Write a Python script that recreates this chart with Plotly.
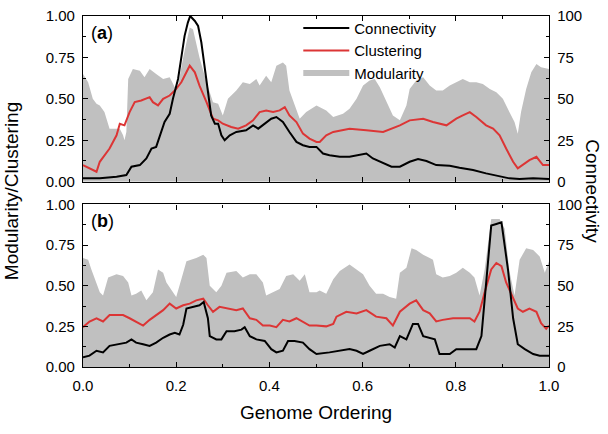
import plotly.graph_objects as go

# ---------------- Panel (a) ----------------
a_mod_x = [0, 0.011, 0.021, 0.029, 0.036, 0.046, 0.057, 0.079, 0.086, 0.089, 0.093, 0.097, 0.107, 0.122, 0.132,
           0.143, 0.157, 0.172, 0.186, 0.197, 0.204, 0.215, 0.229, 0.236, 0.250, 0.265, 0.279, 0.290, 0.300,
           0.311, 0.329, 0.343, 0.358, 0.372, 0.379, 0.393, 0.404, 0.415, 0.429, 0.436, 0.443, 0.454, 0.465,
           0.479, 0.501, 0.522, 0.537, 0.558, 0.572, 0.587, 0.601, 0.615, 0.626, 0.637, 0.651, 0.665, 0.680,
           0.694, 0.701, 0.715, 0.730, 0.744, 0.758, 0.772, 0.787, 0.801, 0.815, 0.830, 0.844, 0.858, 0.873,
           0.887, 0.901, 0.915, 0.926, 0.933, 0.940, 0.951, 0.962, 0.973, 0.983, 1.0]
a_mod_y = [0.65, 0.60, 0.50, 0.47, 0.46, 0.42, 0.32, 0.32, 0.28, 0.25, 0.30, 0.62, 0.68, 0.67, 0.63,
           0.68, 0.65, 0.62, 0.63, 0.57, 0.58, 0.75, 0.93, 0.92, 0.75, 0.60, 0.48, 0.47, 0.40,
           0.50, 0.55, 0.60, 0.59, 0.62, 0.58, 0.64, 0.60, 0.70, 0.72, 0.70, 0.55, 0.47, 0.38,
           0.42, 0.46, 0.43, 0.39, 0.41, 0.44, 0.50, 0.58, 0.61, 0.62, 0.57, 0.48, 0.40, 0.37,
           0.46, 0.56, 0.61, 0.63, 0.58, 0.55, 0.55, 0.58, 0.60, 0.62, 0.60, 0.60, 0.59, 0.56,
           0.54, 0.50, 0.42, 0.36, 0.29, 0.42, 0.56, 0.66, 0.71, 0.69, 0.68]

a_clu_x = [0, 0.014, 0.029, 0.036, 0.046, 0.057, 0.072, 0.079, 0.089, 0.100, 0.111, 0.125, 0.143, 0.150,
           0.161, 0.172, 0.186, 0.197, 0.211, 0.222, 0.229, 0.240, 0.250, 0.265, 0.279, 0.290, 0.300, 0.318,
           0.333, 0.350, 0.365, 0.379, 0.393, 0.408, 0.422, 0.433, 0.443, 0.458, 0.472, 0.486, 0.501, 0.508,
           0.522, 0.537, 0.572, 0.608, 0.644, 0.680, 0.701, 0.730, 0.751, 0.780, 0.801, 0.815, 0.830, 0.844,
           0.865, 0.880, 0.894, 0.908, 0.923, 0.933, 0.944, 0.958, 0.973, 0.987, 1.0]
a_clu_y = [0.10, 0.08, 0.06, 0.12, 0.16, 0.20, 0.28, 0.35, 0.34, 0.42, 0.48, 0.49, 0.51, 0.48,
           0.46, 0.50, 0.52, 0.55, 0.60, 0.66, 0.70, 0.66, 0.58, 0.48, 0.38, 0.37, 0.35, 0.33,
           0.32, 0.34, 0.37, 0.42, 0.43, 0.42, 0.43, 0.45, 0.40, 0.36, 0.29, 0.26, 0.24, 0.24,
           0.28, 0.30, 0.32, 0.31, 0.30, 0.34, 0.37, 0.38, 0.36, 0.34, 0.38, 0.40, 0.42, 0.39,
           0.34, 0.32, 0.28, 0.20, 0.12, 0.08, 0.10, 0.13, 0.15, 0.10, 0.10]

a_con_x = [0, 0.036, 0.072, 0.093, 0.104, 0.122, 0.136, 0.147, 0.157, 0.165, 0.175, 0.186, 0.193, 0.204,
           0.211, 0.218, 0.225, 0.230, 0.240, 0.247, 0.254, 0.261, 0.268, 0.275, 0.283, 0.290, 0.297, 0.304,
           0.315, 0.329, 0.350, 0.365, 0.376, 0.390, 0.404, 0.415, 0.429, 0.443, 0.458, 0.472, 0.486, 0.501,
           0.515, 0.529, 0.551, 0.572, 0.594, 0.608, 0.622, 0.644, 0.662, 0.680, 0.701, 0.719, 0.737, 0.758,
           0.787, 0.808, 0.837, 0.865, 0.894, 0.915, 0.937, 0.966, 1.0]
a_con_y = [2, 2, 3, 4, 9, 10, 14, 20, 21, 28, 36, 41, 50, 62,
           76, 88, 96, 100, 97, 94, 84, 70, 56, 40, 35, 35, 28, 25,
           28, 30, 31, 34, 32, 35, 38, 39, 36, 30, 24, 22, 21, 21,
           17, 16, 15, 15, 16, 17, 14, 11, 9, 9, 12, 13.6, 12.5, 10,
           9.6, 8.4, 7, 5, 3, 2, 1.6, 2, 1.6]

# ---------------- Panel (b) ----------------
b_mod_x = [0, 0.011, 0.018, 0.029, 0.036, 0.043, 0.054, 0.072, 0.086, 0.097, 0.104, 0.114, 0.125, 0.136,
           0.150, 0.161, 0.172, 0.179, 0.200, 0.211, 0.222, 0.243, 0.258, 0.265, 0.272, 0.286, 0.297, 0.308,
           0.329, 0.343, 0.358, 0.372, 0.386, 0.393, 0.408, 0.422, 0.436, 0.451, 0.465, 0.476, 0.486, 0.501,
           0.508, 0.522, 0.537, 0.551, 0.572, 0.587, 0.601, 0.615, 0.629, 0.644, 0.658, 0.672, 0.680, 0.694,
           0.705, 0.715, 0.730, 0.744, 0.751, 0.758, 0.772, 0.787, 0.801, 0.815, 0.830, 0.840, 0.851, 0.862,
           0.876, 0.894, 0.905, 0.915, 0.926, 0.937, 0.951, 0.966, 0.980, 0.991, 1.0]
b_mod_y = [0.67, 0.66, 0.60, 0.52, 0.46, 0.44, 0.55, 0.57, 0.56, 0.52, 0.44, 0.45, 0.47, 0.41,
           0.46, 0.60, 0.58, 0.52, 0.43, 0.54, 0.65, 0.67, 0.69, 0.67, 0.50, 0.46, 0.50, 0.58,
           0.59, 0.55, 0.57, 0.57, 0.52, 0.44, 0.46, 0.48, 0.56, 0.57, 0.53, 0.57, 0.46, 0.46,
           0.47, 0.45, 0.54, 0.59, 0.63, 0.60, 0.57, 0.50, 0.45, 0.45, 0.43, 0.42, 0.58, 0.61,
           0.73, 0.72, 0.69, 0.67, 0.66, 0.57, 0.55, 0.56, 0.58, 0.61, 0.58, 0.55, 0.44, 0.60,
           0.91, 0.91, 0.85, 0.59, 0.44, 0.66, 0.73, 0.72, 0.68, 0.58, 0.65]

b_clu_x = [0, 0.014, 0.029, 0.043, 0.057, 0.072, 0.086, 0.100, 0.114, 0.129, 0.143, 0.157, 0.172, 0.186,
           0.200, 0.215, 0.229, 0.243, 0.258, 0.268, 0.279, 0.293, 0.308, 0.329, 0.343, 0.358, 0.372, 0.386,
           0.401, 0.415, 0.429, 0.443, 0.458, 0.472, 0.486, 0.501, 0.522, 0.537, 0.544, 0.565, 0.587, 0.608,
           0.629, 0.651, 0.665, 0.680, 0.701, 0.715, 0.730, 0.744, 0.758, 0.772, 0.794, 0.815, 0.830, 0.840,
           0.851, 0.862, 0.876, 0.887, 0.898, 0.908, 0.923, 0.933, 0.944, 0.958, 0.973, 0.983, 0.994, 1.0]
b_clu_y = [0.245, 0.28, 0.30, 0.28, 0.32, 0.32, 0.32, 0.30, 0.28, 0.255, 0.29, 0.32, 0.35, 0.39,
           0.36, 0.38, 0.39, 0.41, 0.42, 0.38, 0.34, 0.37, 0.36, 0.35, 0.36, 0.30, 0.29, 0.255,
           0.255, 0.245, 0.29, 0.28, 0.30, 0.28, 0.255, 0.255, 0.25, 0.265, 0.31, 0.34, 0.33, 0.35,
           0.31, 0.30, 0.255, 0.34, 0.39, 0.41, 0.35, 0.33, 0.28, 0.29, 0.30, 0.30, 0.30, 0.28,
           0.34, 0.46, 0.60, 0.64, 0.62, 0.52, 0.42, 0.36, 0.34, 0.36, 0.34, 0.27, 0.235, 0.255]

b_con_x = [0, 0.014, 0.029, 0.043, 0.057, 0.072, 0.093, 0.104, 0.114, 0.129, 0.143, 0.157, 0.172, 0.186,
           0.197, 0.207, 0.215, 0.222, 0.236, 0.250, 0.259, 0.268, 0.272, 0.286, 0.297, 0.308, 0.325, 0.340,
           0.347, 0.358, 0.372, 0.390, 0.404, 0.415, 0.429, 0.440, 0.454, 0.472, 0.486, 0.501, 0.529, 0.551,
           0.572, 0.587, 0.601, 0.615, 0.637, 0.658, 0.669, 0.680, 0.694, 0.708, 0.719, 0.730, 0.744, 0.755,
           0.765, 0.787, 0.801, 0.823, 0.844, 0.855, 0.865, 0.876, 0.887, 0.898, 0.912, 0.923, 0.933, 0.948,
           0.966, 0.980, 1.0]
b_con_y = [6, 7, 10, 9, 13, 14, 15, 17, 15, 14, 13, 15, 18, 20,
           21, 20, 26, 36, 37, 38, 40, 30, 19, 17, 17, 22, 22, 23,
           24.5, 19, 17, 16, 11, 9, 10, 16, 16, 15, 11, 8, 9, 10,
           11, 10, 8, 10, 13, 14, 12, 19, 17, 26.5, 26.5, 19, 18, 17,
           8, 8, 11, 11, 11, 19, 50, 87, 88, 89, 60, 30, 14, 11,
           8, 7, 7]

left_ticks = [0, 0.25, 0.5, 0.75, 1.0]
right_ticks = [0, 25, 50, 75, 100]
x_ticks = [0.0, 0.2, 0.4, 0.6, 0.8, 1.0]

GREY = "#c0c0c0"
RED = "#dc3535"
BLACK = "#000000"
FONT = "Liberation Sans, Arial, sans-serif"

fig = go.Figure()

panels = [
    ("x", "y", "y2", a_mod_x, a_mod_y, a_clu_x, a_clu_y, a_con_x, a_con_y, True),
    ("x2", "y3", "y4", b_mod_x, b_mod_y, b_clu_x, b_clu_y, b_con_x, b_con_y, False),
]
for xa, ya, yb, mx, my, cx, cy, kx, ky, leg in panels:
    fig.add_trace(go.Scatter(x=mx, y=my, xaxis=xa, yaxis=ya, mode="lines", fill="tozeroy",
                             line=dict(width=0, color=GREY), fillcolor=GREY, showlegend=False,
                             hoverinfo="skip"))
    fig.add_trace(go.Scatter(x=cx, y=cy, xaxis=xa, yaxis=ya, mode="lines", name="Clustering",
                             line=dict(color=RED, width=2), showlegend=leg, legendrank=2))
    fig.add_trace(go.Scatter(x=kx, y=ky, xaxis=xa, yaxis=yb, mode="lines", name="Connectivity",
                             line=dict(color=BLACK, width=2), showlegend=leg, legendrank=1))

fig.add_trace(go.Scatter(x=[None], y=[None], xaxis="x", yaxis="y", mode="lines", name="Modularity",
                         line=dict(color=GREY, width=6), showlegend=True, legendrank=3))

minor_common = dict(ticks="inside", ticklen=3, tickcolor="black", tickwidth=1.2, showgrid=False)
axis_common = dict(showline=True, linecolor="black", linewidth=1.3, ticks="inside", ticklen=5,
                   tickcolor="black", tickwidth=1.2, showgrid=False, zeroline=False, automargin=False,
                   tickfont=dict(family=FONT, size=15, color="black"))

top_dom = [0.528, 1.0]
bot_dom = [0.0, 0.463]

fig.update_layout(
    template="none",
    width=608, height=434,
    margin=dict(l=83, r=59, t=13, b=67, pad=0),
    paper_bgcolor="white", plot_bgcolor="white",
    font=dict(family=FONT, color="black"),
    showlegend=True,
    legend=dict(x=0.462, y=1.012, xanchor="left", yanchor="top", bgcolor="rgba(0,0,0,0)",
                font=dict(family=FONT, size=15, color="black"), tracegroupgap=0,
                itemwidth=46, borderwidth=0),
    xaxis=dict(axis_common, domain=[0, 1], range=[0, 1], anchor="y", mirror="ticks",
               tickvals=x_ticks, showticklabels=False, minor=dict(minor_common, dtick=0.1, tick0=0)),
    yaxis=dict(axis_common, domain=top_dom, range=[0, 1], anchor="x", tickvals=left_ticks,
               tickformat=".2f", ticklabelstandoff=4, minor=dict(minor_common, dtick=0.125, tick0=0)),
    yaxis2=dict(axis_common, overlaying="y", side="right", range=[0, 100], anchor="x",
                tickvals=right_ticks, ticklabelstandoff=4, minor=dict(minor_common, dtick=12.5, tick0=0)),
    xaxis2=dict(axis_common, domain=[0, 1], range=[0, 1], anchor="y3", mirror="ticks",
                tickvals=x_ticks, tickformat=".1f", ticklabelstandoff=5,
                minor=dict(minor_common, dtick=0.1, tick0=0)),
    yaxis3=dict(axis_common, domain=bot_dom, range=[0, 1], anchor="x2", tickvals=left_ticks,
                tickformat=".2f", ticklabelstandoff=4, minor=dict(minor_common, dtick=0.125, tick0=0)),
    yaxis4=dict(axis_common, overlaying="y3", side="right", range=[0, 100], anchor="x2",
                tickvals=right_ticks, ticklabelstandoff=4, minor=dict(minor_common, dtick=12.5, tick0=0)),
)

fig.add_annotation(text="Genome Ordering", xref="paper", yref="paper", x=0.5, y=-0.13,
                   showarrow=False, font=dict(family=FONT, size=19, color="black"),
                   xanchor="center", yanchor="middle")
fig.add_annotation(text="Modularity/Clustering", xref="paper", yref="paper", x=-0.153, y=0.5,
                   textangle=-90, showarrow=False, font=dict(family=FONT, size=19, color="black"),
                   xanchor="center", yanchor="middle")
fig.add_annotation(text="Connectivity", xref="paper", yref="paper", x=1.093, y=0.5,
                   textangle=90, showarrow=False, font=dict(family=FONT, size=19, color="black"),
                   xanchor="center", yanchor="middle")
fig.add_annotation(text="(<b>a</b>)", xref="x domain", yref="y domain", x=0.012, y=0.97,
                   showarrow=False, xanchor="left", yanchor="top",
                   font=dict(family=FONT, size=18, color="black"))
fig.add_annotation(text="(<b>b</b>)", xref="x2 domain", yref="y3 domain", x=0.012, y=0.97,
                   showarrow=False, xanchor="left", yanchor="top",
                   font=dict(family=FONT, size=18, color="black"))

fig.write_html("out.html", config={"displayModeBar": False},
               post_script="document.body.style.margin='0px';document.body.style.overflow='hidden';")
